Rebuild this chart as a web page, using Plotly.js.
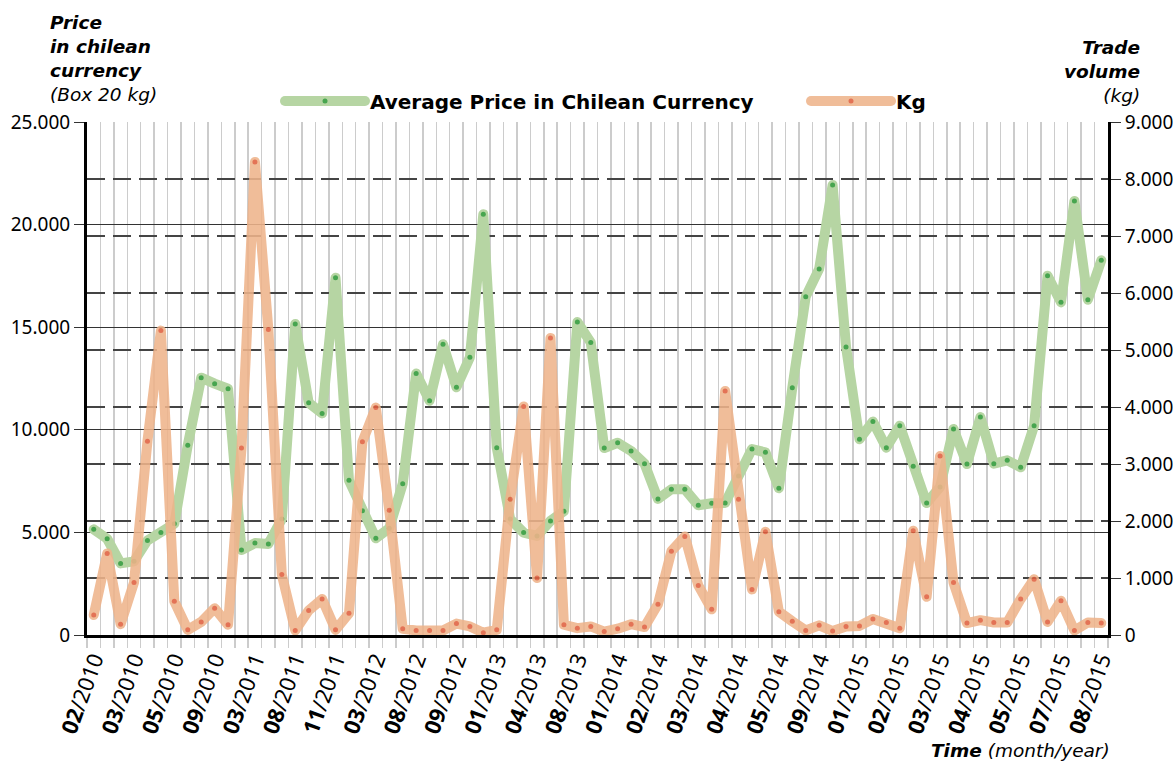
<!DOCTYPE html>
<html>
<head>
<meta charset="utf-8">
<script src="https://cdn.plot.ly/plotly-3.0.1.min.js"></script>
<style>
html,body{margin:0;padding:0;background:#fff;}
.js-line{stroke-linejoin:round !important;stroke-linecap:round !important;}
</style>
</head>
<body>
<div id="chart" style="width:1173px;height:764px;"></div>
<script>
// Average price (Chilean pesos, box 20 kg) - left axis
const price = [5150, 4690, 3490, 3590, 4610, 5000, 5420, 9250, 12540, 12250,
  12000, 4140, 4480, 4440, 5650, 15160, 11320, 10800, 17410, 7540,
  6060, 4710, 5200, 7370, 12740, 11420, 14170, 12070, 13530, 20500,
  9130, 5650, 4990, 4830, 5560, 6030, 15250, 14250, 9110, 9370,
  8970, 8350, 6630, 7100, 7100, 6320, 6420, 6430, 7750, 9060,
  8900, 7150, 12050, 16490, 17840, 21930, 14040, 9540, 10400, 9130,
  10200, 8220, 6430, 7210, 10040, 8330, 10620, 8350, 8510, 8170,
  10200, 17510, 16210, 21150, 16340, 18260];

// Trade volume (kg) - right axis
const kg = [350, 1430, 190, 920, 3400, 5340, 590, 90, 230, 470,
  180, 3280, 8300, 5360, 1060, 80, 430, 630, 90, 380,
  3390, 3990, 2190, 110, 80, 80, 80, 200, 150, 40,
  90, 2380, 4010, 1000, 5210, 180, 120, 150, 60, 110,
  190, 140, 540, 1470, 1730, 870, 450, 4280, 2380, 800,
  1810, 410, 240, 80, 170, 70, 150, 160, 280, 220,
  120, 1830, 670, 3140, 920, 210, 260, 220, 220, 630,
  980, 230, 600, 80, 220, 210];

// Tick labels (month/year), shown every third observation
const tickMonths = ['02','03','05','09','03','08','11','03','08','09','01','04','08',
  '01','02','03','04','05','09','01','02','03','04','05','07','08'];
const tickYears = ['2010','2010','2010','2010','2011','2011','2011','2012','2012','2012','2013','2013','2013',
  '2014','2014','2014','2014','2014','2014','2015','2015','2015','2015','2015','2015','2015'];
const tickStep = 3;

const seriesNames = ['Average Price in Chilean Currency', 'Kg'];

const xs = price.map((_, i) => i);
const tickvals = tickMonths.map((_, i) => i * tickStep);
const ticktext = tickMonths.map((m, i) => '<b>' + m + '</b>/' + tickYears[i]);

const FONT = 'Noto Sans, Open Sans, sans-serif';
const WIDE = 'DejaVu Sans, Verdana, sans-serif';

const traces = [
  {
    x: xs, y: price, type: 'scatter', mode: 'lines+markers',
    name: seriesNames[0], legend: 'legend',
    line: {color: '#b6d5a3', width: 10},
    marker: {color: '#47a54f', size: 5},
    opacity: 1
  },
  {
    x: xs, y: kg, type: 'scatter', mode: 'lines+markers', yaxis: 'y2',
    name: seriesNames[1], legend: 'legend2',
    line: {color: '#efb48b', width: 10},
    marker: {color: '#e0603f', size: 5},
    opacity: 0.88
  }
];

const PL = 87, PR = 1108, PT = 122, PB = 635;
const px = v => (v - PL) / (PR - PL);
const py = v => (PB - v) / (PB - PT);

function label(text, x, y, xanchor, size) {
  return {xref: 'paper', yref: 'paper', x: px(x), y: py(y), xanchor: xanchor, yanchor: 'middle',
    align: xanchor, showarrow: false, font: {family: WIDE, size: size, color: '#000'}, text: text};
}

const legendBase = {
  orientation: 'h', xanchor: 'left', y: py(101), yanchor: 'middle',
  font: {family: WIDE, size: 20, color: '#000', weight: 'bold'},
  itemwidth: 80, bgcolor: 'rgba(0,0,0,0)'
};

const layout = {
  width: 1173, height: 764,
  margin: {l: PL, r: 1173 - PR, t: PT, b: 764 - PB, pad: 0},
  paper_bgcolor: '#fff', plot_bgcolor: '#fff',
  separators: ',.',
  font: {family: FONT, color: '#000'},
  showlegend: true,
  xaxis: {
    range: [-0.5, price.length - 0.5],
    tickmode: 'array', tickvals: tickvals, ticktext: ticktext,
    tickangle: -70, tickfont: {size: 22, color: '#000'},
    showgrid: false, zeroline: false, ticks: '',
    showline: true, linecolor: '#000', linewidth: 3,
    minor: {tickmode: 'linear', tick0: -0.5, dtick: 1, showgrid: true,
      gridcolor: '#cccccc', gridwidth: 1.5, ticks: 'outside', ticklen: 10,
      tickcolor: '#cccccc', tickwidth: 1.5},
    fixedrange: true
  },
  yaxis: {
    range: [0, 25000], tickmode: 'linear', tick0: 0, dtick: 5000, tickformat: ',d',
    showgrid: true, gridcolor: '#333', gridwidth: 1, zeroline: false,
    showline: true, linecolor: '#000', linewidth: 3,
    ticks: 'outside', ticklen: 10, tickcolor: '#333', tickwidth: 1,
    tickfont: {size: 19, color: '#000'}
  },
  yaxis2: {
    overlaying: 'y', side: 'right',
    range: [0, 9000], tickmode: 'linear', tick0: 0, dtick: 1000, tickformat: ',d',
    showgrid: true, gridcolor: '#444', gridwidth: 1.2, griddash: '18px,8px', zeroline: false,
    showline: true, linecolor: '#000', linewidth: 3,
    ticks: 'outside', ticklen: 10, tickcolor: '#333', tickwidth: 1,
    tickfont: {size: 19, color: '#000'}
  },
  legend: Object.assign({}, legendBase, {x: px(280)}),
  legend2: Object.assign({}, legendBase, {x: px(806)}),
  annotations: [
    label('<b><i>Price<br>in chilean<br>currency</i></b><br><i>(Box 20 kg)</i>', 48, 58, 'left', 18.5),
    label('<b><i>Trade<br>volume</i></b><br><i>(kg)</i>', 1142, 71, 'right', 18.5),
    label('<b><i>Time</i></b> <i>(month/year)</i>', 1112, 750, 'right', 18.5)
  ]
};

Plotly.newPlot('chart', traces, layout, {displayModeBar: false, staticPlot: true});
</script>
</body>
</html>
